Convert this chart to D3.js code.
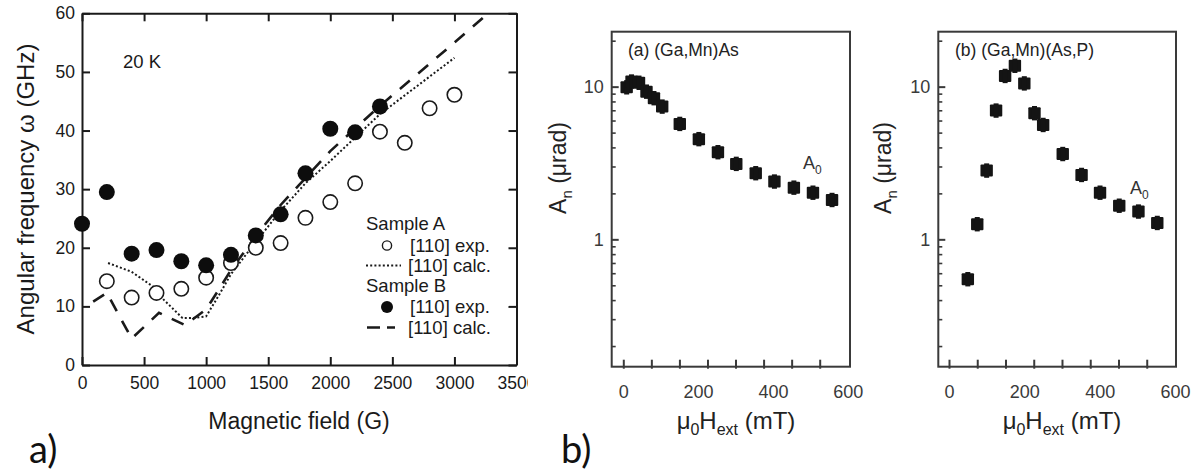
<!DOCTYPE html>
<html>
<head>
<meta charset="utf-8">
<script src="https://cdn.jsdelivr.net/npm/d3@7"></script>
<style>
  html, body { margin: 0; padding: 0; background: #fff; }
  svg { display: block; }
  text { font-family: "Liberation Sans", Arial, Helvetica, sans-serif; }
</style>
</head>
<body>
<svg id="chart" width="1198" height="471"></svg>
<script>
// ---------------- DATA ----------------
// Panel a) : angular frequency vs magnetic field
const fieldA = [200, 400, 600, 800, 1000, 1200, 1400, 1600, 1800, 2000, 2200, 2400, 2600, 2800, 3000];
const freqA  = [14.3, 11.5, 12.3, 13.0, 14.9, 17.4, 20.0, 20.8, 25.1, 27.8, 31.0, 39.8, 37.9, 43.8, 46.1];
const fieldB = [0, 200, 400, 600, 800, 1000, 1200, 1400, 1600, 1800, 2000, 2200, 2400];
const freqB  = [24.1, 29.5, 19.0, 19.6, 17.7, 17.0, 18.8, 22.1, 25.7, 32.7, 40.3, 39.7, 44.1];
const calcFieldA = [210, 400, 570, 660, 810, 880, 1000, 1100, 1200, 1400, 1600, 1800, 2000, 2400, 3000];
const calcFreqA  = [17.4, 15.9, 13.4, 11.1, 8.0, 8.0, 8.3, 11.8, 15.5, 21.0, 26.3, 31.0, 34.8, 42.8, 52.4];
const calcFieldB = [90, 200, 400, 620, 830, 1000, 1100, 1200, 1400, 1600, 2000, 2400, 3000, 3300];
const calcFreqB  = [10.8, 12.3, 4.5, 8.9, 6.8, 9.5, 12.8, 16.2, 22.0, 27.3, 36.5, 44.2, 55.0, 60.5];
const xTicksA = [0, 500, 1000, 1500, 2000, 2500, 3000, 3500];
const yTicksA = [0, 10, 20, 30, 40, 50, 60];

// Panel b) : amplitude vs external field (log scale)
const hGaMnAs   = [9, 22, 42, 62, 82, 104, 151, 202, 253, 302, 354, 404, 456, 507, 558];
const ampGaMnAs = [9.9, 10.8, 10.6, 9.27, 8.4, 7.4, 5.7, 4.53, 3.72, 3.12, 2.71, 2.39, 2.18, 2.02, 1.81];
const hGaMnAsP   = [50, 75, 100, 125, 149, 175, 200, 227, 250, 302, 352, 401, 452, 503, 553];
const ampGaMnAsP = [0.548, 1.256, 2.82, 6.97, 11.75, 13.7, 10.5, 6.7, 5.61, 3.62, 2.64, 2.02, 1.66, 1.52, 1.28];
const xTickLabelsB = [0, 200, 400, 600];
const xTickMarksB  = [0, 75, 150, 225, 300, 375, 450, 525];
const yTickLabelsB = [1, 10];

// ---------------- DRAWING ----------------
const svg = d3.select("#chart");
const ink = "#1a1a1a";
const FONT = '"Liberation Sans", Arial, sans-serif';

// ===== Panel a =====
const ax = d3.scaleLinear().domain([0, 3500]).range([82, 516.5]);
const ay = d3.scaleLinear().domain([0, 60]).range([365, 13.3]);
const gA = svg.append("g");

const defs = svg.append("defs");
defs.append("clipPath").attr("id", "clipA").append("rect")
  .attr("x", ax(0)).attr("y", ay(60)).attr("width", ax(3500) - ax(0)).attr("height", ay(0) - ay(60));
defs.append("clipPath").attr("id", "cropA").append("rect")
  .attr("x", 0).attr("y", 0).attr("width", 528).attr("height", 471);

// axes (ticks inward)
const axBottom = d3.axisBottom(ax).tickValues(xTicksA).tickSizeInner(-8).tickSizeOuter(0).tickPadding(12).tickFormat(d3.format("d"));
const axTop = d3.axisTop(ax).tickValues(xTicksA).tickSizeInner(-8).tickSizeOuter(0).tickFormat("");
const axLeft = d3.axisLeft(ay).tickValues(yTicksA).tickSizeInner(-8).tickSizeOuter(0).tickPadding(7).tickFormat(d3.format("d"));
const axRight = d3.axisRight(ay).tickValues(yTicksA).tickSizeInner(-8).tickSizeOuter(0).tickFormat("");

function styleAxis(g, fs, color, width) {
  g.select(".domain").attr("stroke", color).attr("stroke-width", width);
  g.selectAll(".tick line").attr("stroke", color).attr("stroke-width", width);
  g.selectAll(".tick text").attr("fill", color).style("font-size", fs + "px").style("font-family", FONT);
}
gA.append("g").attr("clip-path", "url(#cropA)").append("g").attr("transform", `translate(0,${ay(0)})`).call(axBottom).call(g => styleAxis(g, 17.5, ink, 2));
gA.append("g").attr("transform", `translate(0,${ay(60)})`).call(axTop).call(g => styleAxis(g, 17.5, ink, 2));
gA.append("g").attr("transform", `translate(${ax(0)},0)`).call(axLeft).call(g => styleAxis(g, 17.5, ink, 2));
gA.append("g").attr("transform", `translate(${ax(3500)},0)`).call(axRight).call(g => styleAxis(g, 17.5, ink, 2));

// calc lines
const lineA = d3.line().x(d => ax(d[0])).y(d => ay(d[1]));
gA.append("path").attr("clip-path", "url(#clipA)")
  .attr("d", lineA(calcFieldA.map((f, i) => [f, calcFreqA[i]])))
  .attr("fill", "none").attr("stroke", ink).attr("stroke-width", 2).attr("stroke-dasharray", "2,2.2");
gA.append("path").attr("clip-path", "url(#clipA)")
  .attr("d", lineA(calcFieldB.map((f, i) => [f, calcFreqB[i]])))
  .attr("fill", "none").attr("stroke", ink).attr("stroke-width", 2.6).attr("stroke-dasharray", "13,11");

// experimental points
gA.append("g").selectAll("circle").data(fieldA.map((f, i) => [f, freqA[i]])).join("circle")
  .attr("cx", d => ax(d[0])).attr("cy", d => ay(d[1])).attr("r", 7.2)
  .attr("fill", "#fff").attr("stroke", ink).attr("stroke-width", 1.6);
gA.append("g").selectAll("circle").data(fieldB.map((f, i) => [f, freqB[i]])).join("circle")
  .attr("cx", d => ax(d[0])).attr("cy", d => ay(d[1])).attr("r", 8)
  .attr("fill", "#0d0d0d");

// annotations
gA.append("text").attr("x", 123).attr("y", 68).text("20 K").attr("fill", ink).style("font-size", "18.5px");

// legend
const leg = gA.append("g").attr("fill", ink).style("font-size", "18.5px");
leg.append("text").attr("x", 366).attr("y", 229.5).text("Sample A");
leg.append("circle").attr("cx", 387).attr("cy", 245.5).attr("r", 4.6).attr("fill", "#fff").attr("stroke", ink).attr("stroke-width", 1.4);
leg.append("text").attr("x", 410).attr("y", 251.5).text("[110] exp.");
leg.append("line").attr("x1", 366).attr("x2", 401).attr("y1", 265.5).attr("y2", 265.5)
  .attr("stroke", ink).attr("stroke-width", 2).attr("stroke-dasharray", "2,2.2");
leg.append("text").attr("x", 408).attr("y", 271.5).text("[110] calc.");
leg.append("text").attr("x", 366).attr("y", 291.5).text("Sample B");
leg.append("circle").attr("cx", 387).attr("cy", 307).attr("r", 6).attr("fill", "#0d0d0d");
leg.append("text").attr("x", 410).attr("y", 313).text("[110] exp.");
leg.append("line").attr("x1", 367).attr("x2", 395).attr("y1", 327.5).attr("y2", 327.5)
  .attr("stroke", ink).attr("stroke-width", 2.6).attr("stroke-dasharray", "13,7");
leg.append("text").attr("x", 408).attr("y", 333.5).text("[110] calc.");

// axis titles
gA.append("text").attr("transform", "translate(34,189) rotate(-90)").attr("text-anchor", "middle")
  .attr("fill", ink).style("font-size", "24px").text("Angular frequency ω (GHz)");
gA.append("text").attr("x", 299).attr("y", 429).attr("text-anchor", "middle")
  .attr("fill", ink).style("font-size", "23px").text("Magnetic field (G)");
gA.append("text").attr("x", 29).attr("y", 463).attr("fill", "#111")
  .style("font-family", "Lato, 'Open Sans', sans-serif").style("font-size", "38px").text("a)");

// ===== Panel b =====
const gray = "#3a3a3a";
function panelB(opts) {
  const g = svg.append("g");
  const x = d3.scaleLinear().domain(opts.xdom).range([opts.left, opts.right]);
  const y = d3.scaleLog().domain([0.1465, 22.9]).range([366.7, 31.7]);

  // frame
  g.append("rect").attr("x", opts.left).attr("y", y(22.9)).attr("width", opts.right - opts.left)
    .attr("height", y(0.1465) - y(22.9)).attr("fill", "none").attr("stroke", gray).attr("stroke-width", 2);

  // bottom tick marks (no labels)
  g.append("g").attr("transform", `translate(0,${y(0.1465)})`)
    .call(d3.axisBottom(x).tickValues(xTickMarksB).tickSizeInner(2).tickSizeOuter(0).tickFormat(""))
    .call(s => { s.select(".domain").remove(); s.selectAll(".tick line").attr("stroke", gray).attr("stroke-width", 2).attr("y1", -7); });
  // bottom labels (no tick marks)
  g.append("g").attr("transform", `translate(0,${y(0.1465)})`)
    .call(d3.axisBottom(x).tickValues(xTickLabelsB).tickSize(0).tickPadding(19))
    .call(s => { s.select(".domain").remove(); s.selectAll(".tick text").attr("fill", gray).style("font-size", "18px").style("font-family", FONT); });

  // left log ticks
  const minor = [];
  [0.1, 1, 10].forEach(dec => { for (let k = 2; k <= 9; k++) { const v = dec * k; if (v > 0.1465 && v < 22.9) minor.push(v); } });
  g.append("g").attr("transform", `translate(${opts.left},0)`)
    .call(d3.axisRight(y).tickValues(minor).tickSize(4).tickFormat(""))
    .call(s => { s.select(".domain").remove(); s.selectAll(".tick line").attr("stroke", gray).attr("stroke-width", 1.6); });
  g.append("g").attr("transform", `translate(${opts.left},0)`)
    .call(d3.axisRight(y).tickValues(yTickLabelsB).tickSize(7).tickFormat(""))
    .call(s => { s.select(".domain").remove(); s.selectAll(".tick line").attr("stroke", gray).attr("stroke-width", 2); });
  g.append("g").attr("transform", `translate(${opts.left},0)`)
    .call(d3.axisLeft(y).tickValues(yTickLabelsB).tickSize(0).tickPadding(8).tickFormat(d3.format("d")))
    .call(s => { s.select(".domain").remove(); s.selectAll(".tick text").attr("fill", gray).style("font-size", "18px").style("font-family", FONT); });

  // markers: filled square with tiny error-bar caps
  const pts = opts.h.map((h, i) => [h, opts.a[i]]);
  const mk = g.append("g").selectAll("g").data(pts).join("g")
    .attr("transform", d => `translate(${x(d[0])},${y(d[1])})`);
  mk.append("rect").attr("x", -6.2).attr("y", -6).attr("width", 12.4).attr("height", 12).attr("rx", 1).attr("fill", "#141414");
  mk.append("rect").attr("x", -2.5).attr("y", -7.2).attr("width", 5).attr("height", 14.4).attr("fill", "#141414");

  // panel title
  g.append("text").attr("x", opts.titleX).attr("y", 56).attr("fill", "#222").style("font-size", "17.5px").text(opts.title);

  // A0 label
  const a0 = g.append("text").attr("x", opts.a0x).attr("y", opts.a0y).attr("fill", "#333").style("font-size", "18px");
  a0.append("tspan").text("A");
  a0.append("tspan").attr("dy", 5).style("font-size", "12px").text("0");

  // y title
  const yt = g.append("text").attr("transform", `translate(${opts.ylabX},168) rotate(-90)`)
    .attr("text-anchor", "middle").attr("fill", "#222").style("font-size", "23px");
  yt.append("tspan").text("A");
  yt.append("tspan").attr("dy", 6).style("font-size", "15px").text("n");
  yt.append("tspan").attr("dy", -6).text(" (μrad)");

  // x title
  const xt = g.append("text").attr("x", opts.xlabX).attr("y", 429).attr("text-anchor", "middle")
    .attr("fill", "#222").style("font-size", "24px");
  xt.append("tspan").text("μ");
  xt.append("tspan").attr("dy", 6).style("font-size", "16px").text("0");
  xt.append("tspan").attr("dy", -6).text("H");
  xt.append("tspan").attr("dy", 6).style("font-size", "16px").text("ext");
  xt.append("tspan").attr("dy", -6).text(" (mT)");
}

panelB({ left: 611.7, right: 850, xdom: [-31, 606], h: hGaMnAs, a: ampGaMnAs,
  title: "(a) (Ga,Mn)As", titleX: 628, a0x: 803, a0y: 169, ylabX: 566, xlabX: 736 });
panelB({ left: 938.3, right: 1176, xdom: [-28.4, 602.7], h: hGaMnAsP, a: ampGaMnAsP,
  title: "(b) (Ga,Mn)(As,P)", titleX: 955, a0x: 1130, a0y: 194, ylabX: 891, xlabX: 1062 });

svg.append("text").attr("x", 561).attr("y", 463).attr("fill", "#111")
  .style("font-family", "Lato, 'Open Sans', sans-serif").style("font-size", "38px").text("b)");
</script>
</body>
</html>
